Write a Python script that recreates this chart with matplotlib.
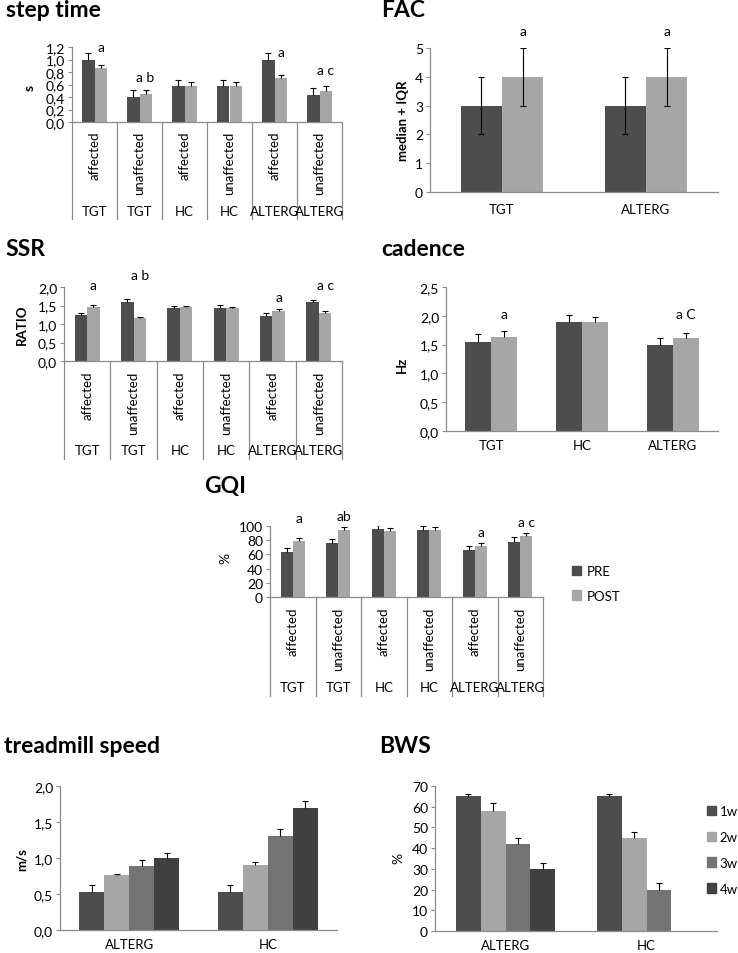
import matplotlib
matplotlib.use("Agg")
import matplotlib.pyplot as plt
from matplotlib.ticker import FuncFormatter, MultipleLocator
from matplotlib.patches import Patch
import numpy as np

plt.rcParams['font.family'] = ['Lato', 'DejaVu Sans']

# ---------------- data ----------------
groups6 = ['TGT', 'TGT', 'HC', 'HC', 'ALTERG', 'ALTERG']
sides6 = ['affected', 'unaffected', 'affected', 'unaffected', 'affected', 'unaffected']

step_pre = [1.00, 0.40, 0.57, 0.57, 1.00, 0.43]
step_pre_err = [0.11, 0.12, 0.11, 0.11, 0.11, 0.11]
step_post = [0.86, 0.45, 0.58, 0.58, 0.70, 0.50]
step_post_err = [0.06, 0.06, 0.06, 0.06, 0.06, 0.07]
step_marks = ['a', 'a b', '', '', 'a', 'a c']
step_mark_y = [1.20, 0.72, 0, 0, 1.12, 0.83]

ssr_pre = [1.23, 1.60, 1.43, 1.44, 1.22, 1.59]
ssr_pre_err = [0.07, 0.07, 0.07, 0.07, 0.07, 0.07]
ssr_post = [1.47, 1.15, 1.45, 1.42, 1.35, 1.29]
ssr_post_err = [0.05, 0.05, 0.05, 0.05, 0.05, 0.06]
ssr_marks = ['a', 'a b', '', '', 'a', 'a c']
ssr_mark_y = [2.05, 2.32, 0, 0, 1.73, 2.05]

gqi_pre = [63, 76, 96, 94, 66, 78]
gqi_pre_err = [6, 6, 6, 6, 6, 6]
gqi_post = [79, 95, 93, 95, 72, 86]
gqi_post_err = [4, 4, 4, 4, 4, 4]
gqi_marks = ['a', 'ab', '', '', 'a', 'a c']
gqi_mark_y = [111, 114, 0, 0, 92, 106]

fac_groups = ['TGT', 'ALTERG']
fac_pre = [3, 3]
fac_pre_lo = [2, 2]
fac_pre_hi = [4, 4]
fac_post = [4, 4]
fac_post_lo = [3, 3]
fac_post_hi = [5, 5]
fac_marks = ['a', 'a']
fac_mark_y = [5.6, 5.6]

cad_groups = ['TGT', 'HC', 'ALTERG']
cad_pre = [1.55, 1.89, 1.49]
cad_pre_err = [0.13, 0.13, 0.13]
cad_post = [1.64, 1.89, 1.62]
cad_post_err = [0.09, 0.09, 0.09]
cad_marks = ['a', '', 'a C']
cad_mark_y = [2.03, 0, 2.03]

week_labels = ['1w', '2w', '3w', '4w']
tm_groups = ['ALTERG', 'HC']
tm_vals = [[0.53, 0.53], [0.77, 0.90], [0.89, 1.30], [1.00, 1.70]]
tm_err = [[0.10, 0.10], [0.01, 0.04], [0.08, 0.10], [0.07, 0.09]]

bws_groups = ['ALTERG', 'HC']
bws_vals = [[65, 65], [58, 45], [42, 20], [30, np.nan]]
bws_err = [[1, 1], [4, 3], [3, 3], [3, np.nan]]

# ---------------- style ----------------
C_PRE = '#4d4d4d'
C_POST = '#a6a6a6'
WEEK_C = ['#4d4d4d', '#a6a6a6', '#737373', '#404040']
AX_C = '#8c8c8c'
W, H = 738, 954
TITLE_FS = 16.5
LBL_FS = 9.5
TICK_FS = 10

fig = plt.figure(figsize=(W / 100, H / 100), dpi=100)


def add_ax(x0, yt, x1, yb):
    return fig.add_axes([x0 / W, 1 - yb / H, (x1 - x0) / W, (yb - yt) / H])


def comma(dec):
    return FuncFormatter(lambda v, p: (f'{v:.{dec}f}').replace('.', ','))


def style(ax, ymax, step, dec, fs=TICK_FS):
    ax.set_ylim(0, ymax)
    ax.yaxis.set_major_locator(MultipleLocator(step))
    ax.yaxis.set_major_formatter(comma(dec))
    for s in ['top', 'right']:
        ax.spines[s].set_visible(False)
    for s in ['left', 'bottom']:
        ax.spines[s].set_color(AX_C)
        ax.spines[s].set_linewidth(0.9)
    ax.tick_params(axis='y', length=3, width=0.8, color=AX_C, labelsize=fs, pad=2)
    ax.tick_params(axis='x', length=0)


def ftext(x, y, s, **kw):
    fig.text(x / W, 1 - y / H, s, **kw)


def up_err(ax, x, y, e):
    x = np.asarray(x, float)
    y = np.asarray(y, float)
    e = np.asarray(e, float)
    ax.vlines(x, y, y + e, color='black', lw=0.8, zorder=3)
    ax.plot(x, y + e, ls='none', marker='_', ms=5, mew=0.8, color='black', zorder=3)


def pair_chart(ax, pre, pre_err, post, post_err, marks, mark_y, w):
    x = np.arange(len(pre))
    ax.bar(x - w / 2, pre, w, color=C_PRE, zorder=2)
    ax.bar(x + w / 2, post, w, color=C_POST, zorder=2)
    up_err(ax, x - w / 2, pre, pre_err)
    up_err(ax, x + w / 2, post, post_err)
    for i, (m, my) in enumerate(zip(marks, mark_y)):
        if m:
            ax.text(i + w / 2, my, m, ha='center', va='center', fontsize=10, clip_on=False)
    ax.set_xlim(-0.5, len(pre) - 0.5)


def multilevel(ax, h_px, dy_rot, dy_grp, dy_end):
    ax.set_xticks([])
    tr = ax.get_xaxis_transform()
    n = len(sides6)
    for i in range(n):
        ax.text(i, -dy_rot / h_px, sides6[i], rotation=90, ha='center', va='top',
                fontsize=LBL_FS, transform=tr, clip_on=False)
        ax.text(i, -dy_grp / h_px, groups6[i], ha='center', va='center',
                fontsize=LBL_FS, transform=tr, clip_on=False)
    for k in range(n + 1):
        ax.plot([k - 0.5, k - 0.5], [0, -dy_end / h_px], color=AX_C, lw=0.9,
                transform=tr, clip_on=False)


# ---------- step time ----------
ax = add_ax(72, 48, 342, 123)
pair_chart(ax, step_pre, step_pre_err, step_post, step_post_err, step_marks, step_mark_y, 0.267)
style(ax, 1.2, 0.2, 1)
multilevel(ax, 75, 9, 89, 97)
ftext(6, 17, 'step time', fontsize=TITLE_FS, fontweight='bold', va='baseline')
ftext(30, 88, 's', fontsize=10, fontweight='bold', rotation=90, ha='center', va='center')

# ---------- SSR ----------
ax = add_ax(64, 288, 342, 362)
pair_chart(ax, ssr_pre, ssr_pre_err, ssr_post, ssr_post_err, ssr_marks, ssr_mark_y, 0.267)
style(ax, 2.0, 0.5, 1)
multilevel(ax, 74, 10, 89, 98)
ftext(5, 256, 'SSR', fontsize=TITLE_FS, fontweight='bold', va='baseline')
ftext(22, 325, 'RATIO', fontsize=LBL_FS, fontweight='bold', rotation=90, ha='center', va='center')

# ---------- GQI ----------
ax = add_ax(270, 527, 543, 598)
pair_chart(ax, gqi_pre, gqi_pre_err, gqi_post, gqi_post_err, gqi_marks, gqi_mark_y, 0.267)
style(ax, 100, 20, 0)
multilevel(ax, 71, 10, 90, 99)
ftext(204, 493, 'GQI', fontsize=TITLE_FS, fontweight='bold', va='baseline')
ftext(225, 558, '%', fontsize=10, rotation=90, ha='center', va='center')
fig.legend([Patch(color=C_PRE), Patch(color=C_POST)], ['PRE', 'POST'],
           loc='upper left', bbox_to_anchor=(572 / W, 1 - 566 / H), frameon=False,
           fontsize=9.5, handlelength=0.7, handleheight=0.7, handletextpad=0.4,
           labelspacing=0.95, borderpad=0, borderaxespad=0)

# ---------- FAC ----------
ax = add_ax(430, 49, 718, 193)
w = 0.285
x = np.arange(len(fac_groups))
pre_e = [np.array(fac_pre) - np.array(fac_pre_lo), np.array(fac_pre_hi) - np.array(fac_pre)]
post_e = [np.array(fac_post) - np.array(fac_post_lo), np.array(fac_post_hi) - np.array(fac_post)]
ekw = dict(ecolor='black', elinewidth=0.8, capthick=0.8)
ax.bar(x - w / 2, fac_pre, w, color=C_PRE, yerr=pre_e, capsize=2.5, error_kw=ekw, zorder=2)
ax.bar(x + w / 2, fac_post, w, color=C_POST, yerr=post_e, capsize=2.5, error_kw=ekw, zorder=2)
for i, (m, my) in enumerate(zip(fac_marks, fac_mark_y)):
    ax.text(i + w / 2, my, m, ha='center', va='center', fontsize=10, clip_on=False)
ax.set_xlim(-0.5, 1.5)
style(ax, 5, 1, 0)
ax.set_xticks(x, fac_groups, fontsize=LBL_FS)
ax.tick_params(axis='x', pad=8)
ftext(381, 17, 'FAC', fontsize=TITLE_FS, fontweight='bold', va='baseline')
ftext(403, 121, 'median + IQR', fontsize=LBL_FS, fontweight='bold', rotation=90, ha='center', va='center')

# ---------- cadence ----------
ax = add_ax(446, 288, 718, 432)
pair_chart(ax, cad_pre, cad_pre_err, cad_post, cad_post_err, cad_marks, cad_mark_y, 0.287)
style(ax, 2.5, 0.5, 1)
ax.set_xticks(np.arange(len(cad_groups)), cad_groups, fontsize=LBL_FS)
ax.tick_params(axis='x', pad=6)
ftext(381, 256, 'cadence', fontsize=TITLE_FS, fontweight='bold', va='baseline')
ftext(402, 365, 'Hz', fontsize=LBL_FS, fontweight='bold', rotation=90, ha='center', va='center')


# ---------- weeks charts ----------
def week_chart(ax, vals, errs, groups, w):
    x = np.arange(len(groups))
    for k in range(len(vals)):
        xs = x + (k - 1.5) * w
        ax.bar(xs, vals[k], w, color=WEEK_C[k], zorder=2)
        up_err(ax, xs, vals[k], errs[k])
    ax.set_xlim(-0.5, len(groups) - 0.5)
    ax.set_xticks(x, groups, fontsize=LBL_FS)
    ax.tick_params(axis='x', pad=6)


ax = add_ax(60, 787, 337, 931)
week_chart(ax, tm_vals, tm_err, tm_groups, 0.18)
style(ax, 2.0, 0.5, 1)
ftext(4, 753, 'treadmill speed', fontsize=TITLE_FS, fontweight='bold', va='baseline')
ftext(22, 860, 'm/s', fontsize=LBL_FS, fontweight='bold', rotation=90, ha='center', va='center')

ax = add_ax(435, 787, 717, 932)
week_chart(ax, bws_vals, bws_err, bws_groups, 0.177)
style(ax, 70, 10, 0)
ftext(379, 753, 'BWS', fontsize=TITLE_FS, fontweight='bold', va='baseline')
ftext(398, 858, '%', fontsize=10, rotation=90, ha='center', va='center')
fig.legend([Patch(color=c) for c in WEEK_C], week_labels,
           loc='upper left', bbox_to_anchor=(707 / W, 1 - 806 / H), frameon=False,
           fontsize=9.5, handlelength=0.7, handleheight=0.7, handletextpad=0.25,
           labelspacing=1.05, borderpad=0, borderaxespad=0)

fig.savefig('out.png', dpi=100, facecolor='white')
